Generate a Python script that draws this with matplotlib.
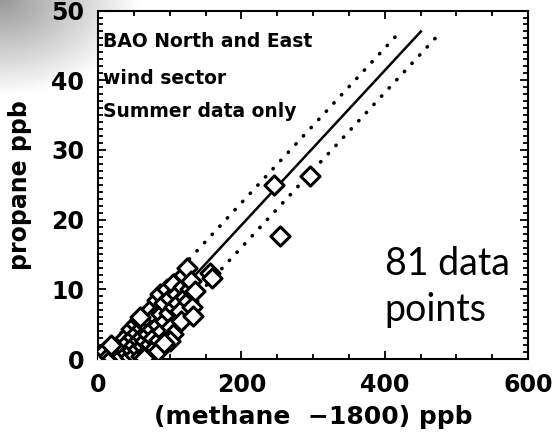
import matplotlib.pyplot as plt
from matplotlib.ticker import MultipleLocator
import numpy as np

# methane excess (ppb) and propane (ppb), 81 summer points
methane = [6, 10, 15, 20, 24, 28, 30, 34, 36, 38,
           40, 42, 44, 46, 47, 49, 50, 52, 53, 55,
           56, 57, 59, 60, 61, 62, 63, 65, 66, 67,
           68, 70, 71, 72, 74, 75, 76, 77, 79, 80,
           82, 83, 85, 86, 88, 89, 84, 92, 94, 96,
           97, 99, 100, 102, 104, 105, 106, 100, 110, 112,
           114, 116, 118, 120, 121, 124, 126, 128, 130, 131,
           133, 135, 156, 159, 245, 296, 254, 64, 92, 18,
           58]
propane = [0.3, 1.2, 0.5, 0.2, 1.5, 0.8, 2.2, 0.4, 1.6, 3.0,
           0.9, 2.4, 0.3, 4.3, 1.3, 3.2, 2.0, 0.6, 5.0, 3.8,
           1.5, 2.7, 5.6, 0.4, 4.4, 3.2, 1.9, 6.2, 2.6, 4.9,
           1.0, 3.6, 5.7, 2.2, 7.2, 4.3, 0.5, 3.0, 6.2, 1.6,
           8.5, 4.9, 2.8, 9.3, 6.5, 4.0, 1.2, 8.0, 5.5, 10.1,
           3.2, 6.6, 8.8, 4.6, 10.7, 3.6, 7.4, 2.6, 9.3, 8.0,
           6.9, 5.4, 10.4, 12.0, 8.9, 13.0, 8.3, 10.0, 11.2, 7.4,
           6.2, 9.8, 12.3, 11.6, 25.0, 26.3, 17.7, 0.2, 2.3, 2.0,
           6.0]

# fit line and its bounds
slope = 0.111
intercept = -3.0
band = 3.2
y_top = 47.0

fig = plt.figure(figsize=(5.57, 4.4), dpi=100)

# grey shading in the top left corner of the slide
bg = fig.add_axes([0, 0, 1, 1], zorder=-5)
gx, gy = np.meshgrid(np.linspace(0, 557, 280), np.linspace(0, 440, 220))
shade = np.clip(1 - np.hypot(gx / 140, gy / 95), 0, 1)
bg.imshow(1 - 0.4 * shade, cmap='gray', vmin=0, vmax=1, aspect='auto',
          extent=[0, 557, 440, 0])
bg.axis('off')

ax = fig.add_axes([0.176, 0.184, 0.772, 0.792])

for off, ls in [(0, '-'), (band, (0, (0.1, 3.0))), (-band, (0, (0.1, 3.0)))]:
    b = intercept + off
    x0 = max(0, -b / slope)
    x1 = (y_top - b) / slope
    xx = np.array([x0, x1])
    if ls == '-':
        ax.plot(xx, slope * xx + b, color='black', lw=1.8)
    else:
        ax.plot(xx, slope * xx + b, color='black', lw=2.6, linestyle=ls,
                dash_capstyle='round')

ax.scatter(methane, propane, marker='D', s=95, facecolors='white',
           edgecolors='black', linewidths=2.2, zorder=3)

ax.set_xlim(0, 600)
ax.set_ylim(0, 50)
ax.xaxis.set_major_locator(MultipleLocator(200))
ax.xaxis.set_minor_locator(MultipleLocator(50))
ax.yaxis.set_major_locator(MultipleLocator(10))
ax.yaxis.set_minor_locator(MultipleLocator(1))
ax.tick_params(which='both', direction='in', top=True, right=True, width=1.3)
ax.tick_params(which='major', length=6, labelsize=17, pad=10)
ax.tick_params(which='minor', length=3.5)
for lab in ax.get_xticklabels() + ax.get_yticklabels():
    lab.set_fontweight('bold')
for s in ax.spines.values():
    s.set_linewidth(1.5)

ax.set_xlabel('(methane  \u22121800) ppb', fontsize=18, fontweight='bold',
              labelpad=6)
ax.set_ylabel('propane ppb', fontsize=17, fontweight='bold', labelpad=14)

ax.text(0.012, 0.894, 'BAO North and East', transform=ax.transAxes,
        fontsize=13.5, fontweight='bold')
ax.text(0.012, 0.789, 'wind sector', transform=ax.transAxes,
        fontsize=13.5, fontweight='bold')
ax.text(0.012, 0.694, 'Summer data only', transform=ax.transAxes,
        fontsize=13.5, fontweight='bold')

ax.text(0.667, 0.11, '81 data\npoints', transform=ax.transAxes,
        fontsize=27, family='Lato', linespacing=1.35)

fig.savefig('out.png', dpi=100)
